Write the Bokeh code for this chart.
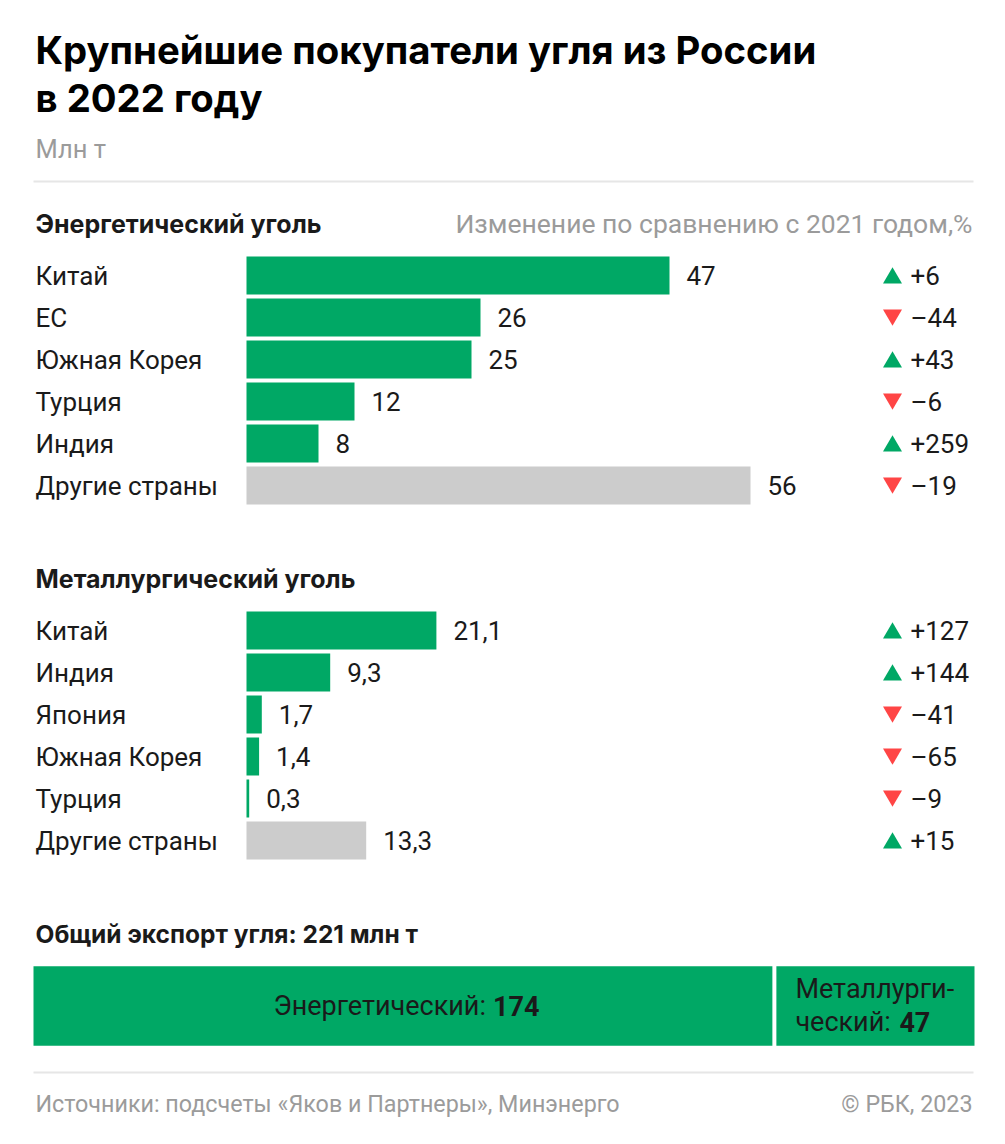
from bokeh.plotting import figure
from bokeh.models import Range1d
from bokeh.core.properties import value
from bokeh.embed import file_html
from bokeh.resources import INLINE

# ---------------- data ----------------
energy_cats = ["Китай", "ЕС", "Южная Корея", "Турция", "Индия", "Другие страны"]
energy_vals = [47, 26, 25, 12, 8, 56]
energy_chg = [6, -44, 43, -6, 259, -19]

met_cats = ["Китай", "Индия", "Япония", "Южная Корея", "Турция", "Другие страны"]
met_vals = [21.1, 9.3, 1.7, 1.4, 0.3, 13.3]
met_chg = [127, 144, -41, -65, -9, 15]

total_labels = ["Энергетический", "Металлургический"]
total_vals = [174, 47]
total_sum = 221

title_lines = ["Крупнейшие покупатели угля из России", "в 2022 году"]
unit_label = "Млн т"
energy_title = "Энергетический уголь"
met_title = "Металлургический уголь"
change_title = "Изменение по сравнению с 2021 годом,%"
total_title = "Общий экспорт угля: 221 млн т"
source_text = "Источники: подсчеты «Яков и Партнеры», Минэнерго"
copyright_text = "© РБК, 2023"

# ---------------- style ----------------
GREEN = "#00a865"
GREY_BAR = "#cccccc"
RED = "#ff4545"
TXT = "#1a1a1a"
MUTED = "#9b9b9b"
RULE = "#e6e6e6"
FONT = value("Roboto")
HFONT = value("Inter")
BODY = 26
BAR_TXT = 27

W, H = 989, 1128
p = figure(width=W, height=H, output_backend="svg", toolbar_location=None,
           x_range=Range1d(0, W), y_range=Range1d(H, 0),
           min_border=0, x_axis_type=None, y_axis_type=None,
           background_fill_color="white", border_fill_color="white")
p.outline_line_color = None
p.grid.visible = False

# scale for the category bars: 1 Mt = 9 px, zero at x=246
BAR_X0, PX_PER_MT = 246, 9.0
p.extra_x_ranges["mt"] = Range1d((0 - BAR_X0) / PX_PER_MT, (W - BAR_X0) / PX_PER_MT)
# scale for the total bar: 0..221 spans x=33..974
TOT_X0, TOT_X1 = 33, 974
k = (TOT_X1 - TOT_X0) / total_sum
p.extra_x_ranges["share"] = Range1d((0 - TOT_X0) / k, (W - TOT_X0) / k)


def fmt_val(v):
    return str(v).replace(".", ",") if isinstance(v, float) else str(v)


def fmt_chg(c):
    return ("+" if c > 0 else "–") + str(abs(c))


def txt(x, y, s, size, color=TXT, bold=False, align="left", font=FONT, **kw):
    p.text(x=[x], y=[y], text=[s], text_font=font, text_font_size=f"{size}px",
           text_color=color, text_font_style="bold" if bold else "normal",
           text_align=align, text_baseline="middle", **kw)


# titles
txt(35, 49, title_lines[0], 38.3, color="#000000", bold=True, font=HFONT)
txt(35, 97, title_lines[1], 38.3, color="#000000", bold=True, font=HFONT)
txt(35, 148, unit_label, 25.5, color=MUTED)
p.segment(x0=[33], x1=[973], y0=[181], y1=[181], line_color=RULE, line_width=2)


def section(cats, vals, chgs, y_first, pitch=42):
    ys = [y_first + pitch * i for i in range(len(cats))]
    colors = [GREEN] * (len(cats) - 1) + [GREY_BAR]
    p.hbar(y=ys, left=0, right=vals, height=38, fill_color=colors, line_color=None,
           x_range_name="mt")
    p.text(x=[35] * len(cats), y=ys, text=cats, text_font=FONT, text_font_size=f"{BODY}px",
           text_color=TXT, text_baseline="middle", text_align="left")
    p.text(x=vals, y=ys, text=[fmt_val(v) for v in vals], x_range_name="mt", x_offset=17,
           text_font=FONT, text_font_size=f"{BODY}px", text_color=TXT,
           text_baseline="middle", text_align="left")
    up_y = [y + 2.6 for y, c in zip(ys, chgs) if c > 0]
    dn_y = [y - 2.6 for y, c in zip(ys, chgs) if c < 0]
    p.scatter(x=[892] * len(up_y), y=up_y, marker="triangle", size=19,
              fill_color=GREEN, line_color=None)
    p.scatter(x=[892] * len(dn_y), y=dn_y, marker="inverted_triangle", size=19,
              fill_color=RED, line_color=None)
    p.text(x=[910] * len(cats), y=ys, text=[fmt_chg(c) for c in chgs], text_font=FONT,
           text_font_size=f"{BODY}px", text_color=TXT, text_baseline="middle",
           text_align="left")


txt(35, 223, energy_title, 25, bold=True, font=HFONT)
txt(972, 223, change_title, 26.5, color=MUTED, align="right")
section(energy_cats, energy_vals, energy_chg, 275)

txt(35, 578, met_title, 25, bold=True, font=HFONT)
section(met_cats, met_vals, met_chg, 630)

# total export bar
txt(35, 933, total_title, 24.5, bold=True, font=HFONT)
lefts = [0, total_vals[0]]
rights = [total_vals[0], total_vals[0] + total_vals[1]]
p.hbar(y=[1005.5, 1005.5], left=lefts, right=rights, height=79.5, fill_color=GREEN,
       line_color=None, x_range_name="share")
p.segment(x0=[total_vals[0]], x1=[total_vals[0]], y0=[960], y1=[1050], line_color="white",
          line_width=4, x_range_name="share")
mid_e = total_vals[0] / 2
p.text(x=[mid_e], y=[1005], text=[total_labels[0] + ":"], x_range_name="share", x_offset=82,
       text_font=FONT, text_font_size=f"{BAR_TXT}px", text_color=TXT, text_align="right",
       text_baseline="middle")
p.text(x=[mid_e], y=[1005], text=[str(total_vals[0])], x_range_name="share", x_offset=89,
       text_font=FONT, text_font_size=f"{BAR_TXT}px", text_color=TXT, text_font_style="bold",
       text_align="left", text_baseline="middle")
met_word = total_labels[1]
p.text(x=[total_vals[0]], y=[988], text=[met_word[:10] + "-"], x_range_name="share",
       x_offset=21, text_font=FONT, text_font_size=f"{BAR_TXT}px", text_color=TXT,
       text_align="left", text_baseline="middle")
p.text(x=[total_vals[0]], y=[1021.5], text=[met_word[10:] + ":"], x_range_name="share",
       x_offset=21, text_font=FONT, text_font_size=f"{BAR_TXT}px", text_color=TXT,
       text_align="left", text_baseline="middle")
p.text(x=[total_vals[0]], y=[1021.5], text=[str(total_vals[1])], x_range_name="share",
       x_offset=125, text_font=FONT, text_font_size=f"{BAR_TXT}px", text_color=TXT,
       text_font_style="bold", text_align="left", text_baseline="middle")

# footer
p.segment(x0=[33], x1=[973], y0=[1072], y1=[1072], line_color=RULE, line_width=2)
txt(35, 1103, source_text, 23.3, color=MUTED)
txt(972, 1103, copyright_text, 23.3, color=MUTED, align="right")

open("out.html", "w").write(file_html(p, INLINE))
